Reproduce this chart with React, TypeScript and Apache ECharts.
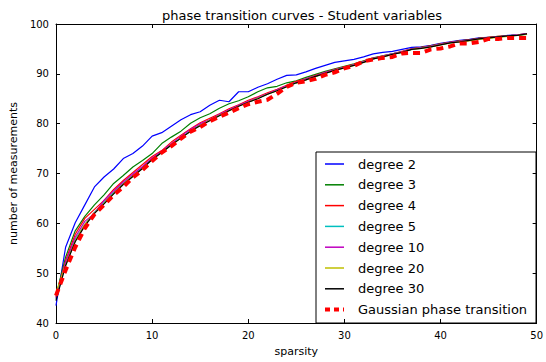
import React, { useEffect, useRef } from "react";
import * as echarts from "echarts";

const sparsity = Array.from({ length: 50 }, (_, i) => i);

const degree2 = [43.5, 55.2, 60.1, 63.7, 67.3, 69.3, 70.9, 73.0, 74.0, 75.5,
  77.5, 78.2, 79.5, 80.8, 81.8, 82.4, 83.7, 84.7, 84.4, 86.4,
  86.4, 87.3, 88.0, 88.9, 89.7, 89.8, 90.4, 91.1, 91.7, 92.3,
  92.6, 92.9, 93.4, 94.0, 94.3, 94.5, 94.9, 95.3, 95.4, 95.7,
  96.1, 96.4, 96.7, 96.9, 97.2, 97.3, 97.4, 97.7, 97.8, 98.0];

const degree3 = [45.5, 53.2, 58.5, 61.4, 63.7, 65.7, 68.0, 69.6, 71.3, 72.6,
  74.0, 76.0, 77.3, 78.5, 80.1, 81.2, 82.0, 83.1, 84.0, 84.6,
  85.4, 86.4, 87.2, 87.5, 88.2, 88.6, 89.3, 89.9, 90.5, 91.0,
  91.5, 92.0, 92.6, 93.2, 93.6, 94.0, 94.4, 95.0, 95.3, 95.6,
  96.0, 96.3, 96.6, 96.8, 97.1, 97.3, 97.5, 97.6, 97.8, 98.0];

const degree4 = [45.2, 52.5, 57.8, 61.0, 62.8, 64.6, 66.8, 68.6, 70.2, 71.8,
  73.4, 74.6, 76.3, 77.7, 79.0, 80.2, 81.1, 82.0, 83.0, 83.8,
  84.7, 85.4, 86.2, 86.9, 87.7, 88.5, 89.0, 89.7, 90.3, 90.9,
  91.4, 91.9, 92.5, 93.1, 93.6, 94.0, 94.5, 95.0, 95.3, 95.6,
  96.0, 96.3, 96.6, 96.8, 97.1, 97.3, 97.5, 97.6, 97.8, 98.0];

const degree5 = [44.8, 51.8, 56.8, 59.8, 62.2, 64.2, 66.2, 68.0, 69.6, 71.2,
  72.9, 74.3, 75.8, 77.2, 78.6, 79.8, 80.8, 81.8, 82.7, 83.6,
  84.3, 85.1, 85.9, 86.7, 87.5, 88.2, 88.9, 89.5, 90.2, 90.8,
  91.3, 91.8, 92.4, 93.0, 93.5, 94.0, 94.4, 94.9, 95.2, 95.5,
  95.9, 96.2, 96.5, 96.7, 97.0, 97.2, 97.4, 97.6, 97.8, 97.9];

const degree10 = [45.0, 52.2, 57.2, 60.4, 62.0, 64.6, 66.5, 68.3, 69.9, 71.4,
  73.1, 74.5, 76.0, 77.5, 78.9, 80.0, 80.8, 81.9, 82.8, 83.7,
  84.5, 85.3, 86.0, 86.8, 87.6, 88.3, 89.0, 89.6, 90.3, 90.8,
  91.3, 91.8, 92.4, 93.1, 93.5, 94.0, 94.4, 95.0, 95.2, 95.5,
  95.9, 96.3, 96.5, 96.7, 97.0, 97.2, 97.4, 97.6, 97.8, 98.0];

const degree20 = [46.0, 51.6, 56.5, 59.8, 62.0, 64.0, 66.0, 67.9, 69.5, 71.0,
  72.8, 74.2, 75.7, 77.1, 78.5, 79.7, 80.7, 81.7, 82.6, 83.5,
  84.3, 85.1, 85.9, 86.6, 87.4, 88.2, 88.8, 89.5, 90.1, 90.7,
  91.2, 91.7, 92.3, 93.0, 93.4, 93.9, 94.3, 94.9, 95.1, 95.4,
  95.8, 96.2, 96.4, 96.6, 96.9, 97.1, 97.3, 97.5, 97.7, 97.9];

const degree30 = [44.5, 51.5, 56.3, 59.5, 62.0, 63.9, 65.9, 67.8, 69.4, 71.0,
  72.8, 74.2, 75.7, 77.1, 78.5, 79.6, 80.6, 81.6, 82.6, 83.5,
  84.3, 85.0, 85.9, 86.6, 87.4, 88.2, 88.8, 89.5, 90.1, 90.7,
  91.2, 91.7, 92.3, 93.0, 93.4, 93.9, 94.3, 94.9, 95.1, 95.4,
  95.8, 96.2, 96.4, 96.7, 97.0, 97.2, 97.4, 97.6, 97.7, 98.0];

const gaussian = [45.5, 50.6, 55.2, 59.0, 61.8, 63.7, 65.7, 67.3, 69.2, 70.7,
  72.5, 74.2, 75.5, 77.0, 78.4, 79.3, 80.5, 81.4, 82.2, 83.1,
  83.9, 84.4, 84.8, 86.0, 87.4, 88.2, 88.5, 89.0, 89.8, 90.3,
  91.1, 91.6, 92.5, 92.9, 93.2, 93.4, 94.1, 94.2, 94.2, 94.9,
  95.1, 95.5, 96.1, 96.1, 96.4, 97.0, 97.0, 97.2, 97.2, 97.2];

const seriesNames = ["degree 2", "degree 3", "degree 4", "degree 5", "degree 10", "degree 20", "degree 30", "Gaussian phase transition"];
const seriesData = [degree2, degree3, degree4, degree5, degree10, degree20, degree30, gaussian];
const seriesColors = ["#0000ff", "#008000", "#ff0000", "#00bfbf", "#bf00bf", "#bfbf00", "#000000", "#ff0000"];

const FONT = "DejaVu Sans";

export default function App() {
  const ref = useRef<HTMLDivElement>(null);
  useEffect(() => {
    if (!ref.current) return;
    const chart = echarts.init(ref.current, null, { renderer: "svg" });
    const tickCommon = { show: true, inside: true, length: 4, lineStyle: { color: "#000", width: 1 } };
    const lineCommon = { show: true, onZero: false, lineStyle: { color: "#000", width: 1 } };
    const lastIdx = seriesNames.length - 1;
    const series = seriesNames.map((name, k) => {
      const isGauss = k === lastIdx;
      return {
        name,
        type: "line",
        xAxisIndex: 0,
        yAxisIndex: 0,
        data: sparsity.map((x, i) => [x, seriesData[k][i]]),
        symbol: "none",
        z: isGauss ? 10 : 2 + k * 0.1,
        lineStyle: isGauss
          ? { color: seriesColors[k], width: 4, type: [7, 5] }
          : { color: seriesColors[k], width: 1.2 },
        itemStyle: { color: seriesColors[k] },
      };
    });

    // legend drawn as graphic elements
    const boxX = 316, boxY = 152, boxW = 220, boxH = 171;
    const rowY0 = 164, rowStep = 20.8;
    const legendChildren: any[] = [
      {
        type: "rect",
        shape: { x: boxX, y: boxY, width: boxW, height: boxH },
        style: { fill: "#fff", stroke: "#000", lineWidth: 1 },
      },
    ];
    seriesNames.forEach((name, k) => {
      const y = rowY0 + k * rowStep;
      legendChildren.push({
        type: "line",
        shape: { x1: 325, y1: y, x2: 344, y2: y },
        style: k === lastIdx
          ? { stroke: seriesColors[k], lineWidth: 4, lineDash: [5, 4] }
          : { stroke: seriesColors[k], lineWidth: 1.5 },
      });
      legendChildren.push({
        type: "text",
        x: 358,
        y,
        style: {
          text: name,
          fill: "#000",
          font: `13px "${FONT}"`,
          textVerticalAlign: "middle",
          verticalAlign: "middle",
        },
      });
    });

    chart.setOption({
      animation: false,
      backgroundColor: "#fff",
      textStyle: { fontFamily: FONT },
      title: {
        text: "phase transition curves - Student variables",
        left: 297,
        top: 4,
        textAlign: "center",
        textStyle: { fontFamily: FONT, fontSize: 13, fontWeight: "normal", color: "#000" },
      },
      grid: { left: 53, top: 24, right: 5, bottom: 33, show: false },
      xAxis: [
        {
          type: "value",
          min: 0,
          max: 50,
          interval: 10,
          position: "bottom",
          axisLine: lineCommon,
          axisTick: tickCommon,
          splitLine: { show: false },
          axisLabel: { fontFamily: FONT, fontSize: 10, color: "#000", margin: 7 },
          name: "sparsity",
          nameLocation: "middle",
          nameGap: 23,
          nameTextStyle: { fontFamily: FONT, fontSize: 11, color: "#000" },
        },
        {
          type: "value",
          min: 0,
          max: 50,
          interval: 10,
          position: "top",
          axisLine: lineCommon,
          axisTick: tickCommon,
          splitLine: { show: false },
          axisLabel: { show: false },
        },
      ],
      yAxis: [
        {
          type: "value",
          min: 40,
          max: 100,
          interval: 10,
          position: "left",
          axisLine: lineCommon,
          axisTick: tickCommon,
          splitLine: { show: false },
          axisLabel: { fontFamily: FONT, fontSize: 10, color: "#000", margin: 7 },
          name: "number of measurements",
          nameLocation: "middle",
          nameGap: 30,
          nameTextStyle: { fontFamily: FONT, fontSize: 11, color: "#000" },
        },
        {
          type: "value",
          min: 40,
          max: 100,
          interval: 10,
          position: "right",
          axisLine: lineCommon,
          axisTick: tickCommon,
          splitLine: { show: false },
          axisLabel: { show: false },
        },
      ],
      series,
      graphic: [{ type: "group", z: 100, children: legendChildren }],
    });
    return () => chart.dispose();
  }, []);
  return (
    <div
      ref={ref}
      style={{ position: "fixed", left: 0, top: 0, width: 546, height: 362, background: "#fff" }}
    />
  );
}
